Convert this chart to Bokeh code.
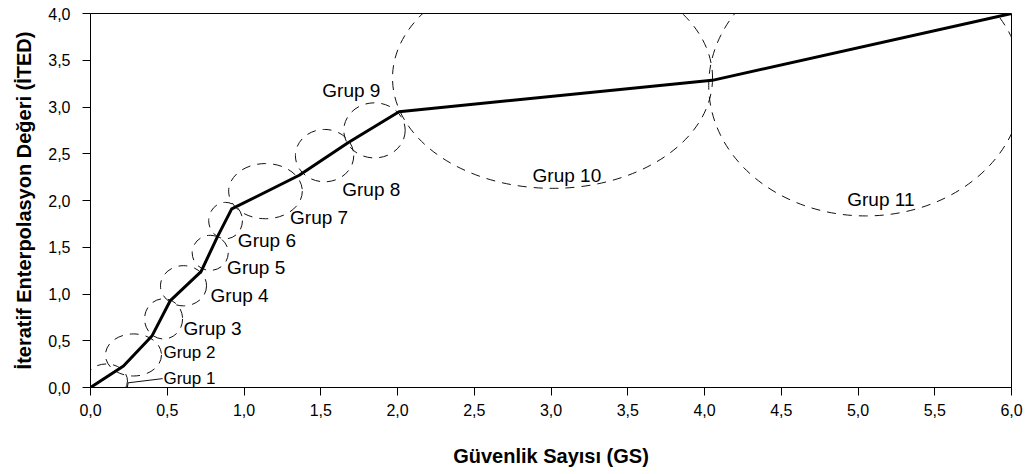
from bokeh.plotting import figure
from bokeh.models import ColumnDataSource, Range1d, CustomJSTickFormatter, SingleIntervalTicker
from bokeh.core.properties import value
from bokeh.embed import file_html
from bokeh.resources import INLINE

# Main curve: Güvenlik Sayısı (GS) vs İteratif Enterpolasyon Değeri (İTED)
gs = [0.0, 0.215, 0.40, 0.52, 0.72, 0.825, 0.92, 1.36, 1.68, 2.01, 4.05, 6.0]
ited = [0.0, 0.23, 0.55, 0.93, 1.24, 1.605, 1.91, 2.27, 2.62, 2.95, 3.285, 4.0]

# Group names and their dashed ellipses (data units)
groups = ["Grup 1", "Grup 2", "Grup 3", "Grup 4", "Grup 5", "Grup 6",
          "Grup 7", "Grup 8", "Grup 9", "Grup 10", "Grup 11"]
ell_x = [0.104, 0.28, 0.476, 0.606, 0.78, 0.88, 1.14, 1.525, 1.85, 3.01, 5.05]
ell_y = [0.07, 0.348, 0.734, 1.088, 1.44, 1.785, 2.10, 2.48, 2.75, 3.31, 3.23]
ell_w = [0.274, 0.365, 0.248, 0.30, 0.235, 0.22, 0.48, 0.38, 0.40, 2.085, 2.045]
ell_h = [0.364, 0.45, 0.43, 0.43, 0.375, 0.39, 0.59, 0.56, 0.59, 2.36, 2.79]

# Label anchor points (data units, left/middle)
lab_x = [0.475, 0.475, 0.606, 0.782, 0.89, 0.96, 1.30, 1.64, 1.51, 2.88, 4.93]
lab_y = [0.10, 0.37, 0.63, 0.98, 1.284, 1.57, 1.82, 2.12, 3.18, 2.27, 2.01]

# Leader line for Grup 1
lead1_x = [0.47, 0.245, 0.24]
lead1_y = [0.095, 0.05, 0.0]

FONT = "Liberation Sans"

p = figure(width=1029, height=474, output_backend="svg", toolbar_location=None,
           x_range=Range1d(0, 6), y_range=Range1d(0, 4),
           min_border_left=90, min_border_right=18, min_border_top=13,
           min_border_bottom=87)
p.background_fill_color = "white"
p.border_fill_color = "white"
p.outline_line_color = "black"
p.outline_line_width = 1
p.xgrid.visible = False
p.ygrid.visible = False

fmt = CustomJSTickFormatter(code="return tick.toFixed(1).replace('.', ',');")
p.xaxis.ticker = SingleIntervalTicker(interval=0.5, num_minor_ticks=0)
p.yaxis.ticker = SingleIntervalTicker(interval=0.5, num_minor_ticks=0)
for ax in (p.xaxis[0], p.yaxis[0]):
    ax.formatter = fmt
    ax.axis_line_color = "black"
    ax.major_tick_line_color = "black"
    ax.major_tick_out = 8
    ax.major_tick_in = 0
    ax.minor_tick_out = 0
    ax.minor_tick_in = 0
    ax.major_label_text_font = FONT
    ax.major_label_text_font_size = "16px"
    ax.major_label_text_color = "black"
    ax.axis_label_text_font = FONT
    ax.axis_label_text_font_size = "20px"
    ax.axis_label_text_font_style = "bold"
    ax.axis_label_text_color = "black"

p.xaxis.axis_label = "Güvenlik Sayısı (GS)"
p.yaxis.axis_label = "İteratif Enterpolasyon Değeri (İTED)"
p.xaxis.major_label_standoff = 8
p.xaxis.axis_label_standoff = 26
p.yaxis.major_label_standoff = 12
p.yaxis.axis_label_standoff = 10

# dashed group ellipses
esrc = ColumnDataSource(dict(x=ell_x, y=ell_y, w=ell_w, h=ell_h))
p.ellipse(x="x", y="y", width="w", height="h", source=esrc,
          fill_color=None, line_color="#111111", line_width=1, line_dash="9 7")

# main curve
p.line(gs, ited, line_color="black", line_width=3, line_join="round")

# leader line for Grup 1
p.line(lead1_x, lead1_y, line_color="#111111", line_width=1)

# group labels
small = ColumnDataSource(dict(x=lab_x[:2], y=lab_y[:2], t=groups[:2]))
big = ColumnDataSource(dict(x=lab_x[2:], y=lab_y[2:], t=groups[2:]))
p.text(x="x", y="y", text="t", source=small, text_font=value(FONT),
       text_font_size="17px", text_align="left", text_baseline="middle",
       text_color="black")
p.text(x="x", y="y", text="t", source=big, text_font=value(FONT),
       text_font_size="19px", text_align="left", text_baseline="middle",
       text_color="black")

open("out.html", "w").write(file_html(p, INLINE))
